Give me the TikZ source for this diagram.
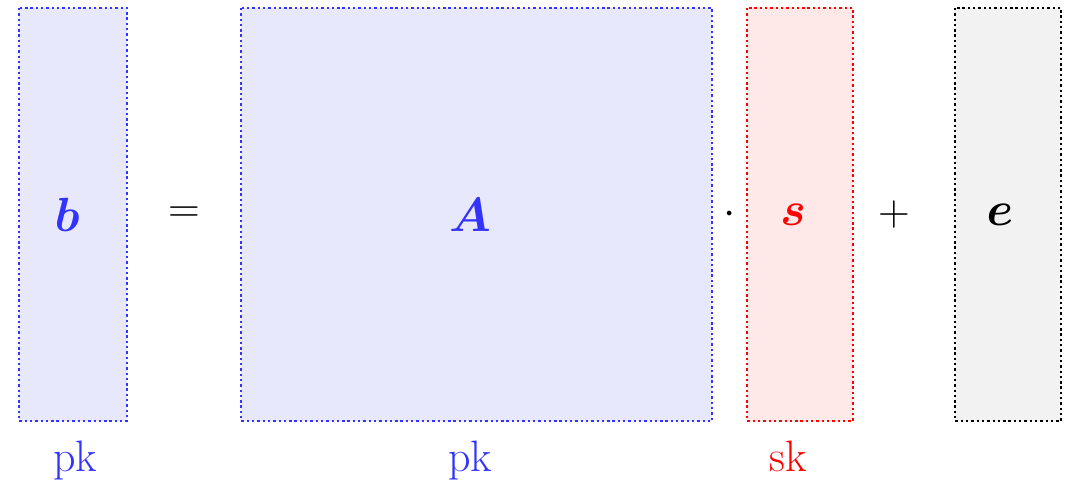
\RequirePackage{fix-cm}
\documentclass[tikz,border=0pt]{standalone}
\usepackage{bm}
\definecolor{bblue}{RGB}{51,51,255}
\definecolor{bfill}{RGB}{232,232,252}
\definecolor{rfill}{RGB}{255,232,232}
\definecolor{gfill}{RGB}{242,242,242}
\begin{document}
\begin{tikzpicture}[x=1pt,y=-1pt,
  mbox/.style={line width=2.6pt,dash pattern=on 2.4pt off 2.9pt},
  big/.style={font=\fontsize{44}{50}\selectfont, inner sep=0pt},
  var/.style={font=\fontsize{48}{54}\selectfont, inner sep=0pt}]
\useasboundingbox (0,0) rectangle (1071,481);
\draw[mbox,draw=bblue,fill=bfill] (19,8) rectangle (127,421);
\draw[mbox,draw=bblue,fill=bfill] (241,8) rectangle (712,421);
\draw[mbox,draw=red,fill=rfill] (747,8) rectangle (853,421);
\draw[mbox,draw=black,fill=gfill] (955,8) rectangle (1061,421);
\node[var,text=bblue] (b) at (67,215) {$\bm{b}$};
\node[big] (eq) at (184,215) {$=$};
\node[var,text=bblue] (A) at (470,215) {$\bm{A}$};
\node[big] (dot) at (730,215) {$\cdot$};
\node[var,text=red] (s) at (793,215) {$\bm{s}$};
\node[big] (plus) at (894,215) {$+$};
\node[var] (e) at (1000,215) {$\bm{e}$};
\node[big,text=bblue,anchor=base] (pk1) at (75,471) {pk};
\node[big,text=bblue,anchor=base] (pk2) at (470,471) {pk};
\node[big,text=red,anchor=base] (sk) at (788,471) {sk};
\end{tikzpicture}
\end{document}
